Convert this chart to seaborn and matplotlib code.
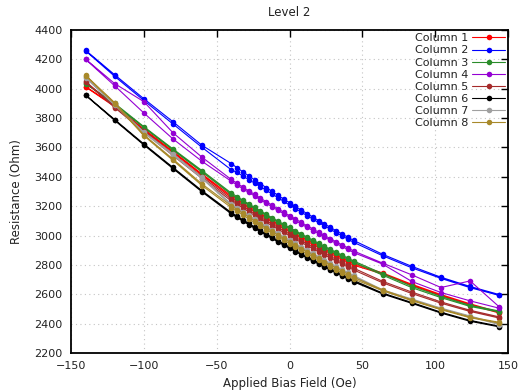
import matplotlib
matplotlib.use('Agg')
import matplotlib.pyplot as plt
import seaborn as sns
import pandas as pd
from matplotlib.lines import Line2D

# Applied bias field (Oe) for one sweep
X = [-140, -120, -100, -80, -60, -40, -36, -32, -28, -24, -20, -16, -12, -8, -4, 0,
     4, 8, 12, 16, 20, 24, 28, 32, 36, 40, 44, 64, 84, 104, 124, 144]

names = ['Column 1', 'Column 2', 'Column 3', 'Column 4',
         'Column 5', 'Column 6', 'Column 7', 'Column 8']
colors = ['#ff0000', '#0000ff', '#2a8c2a', '#9400d3',
          '#a52a2a', '#000000', '#a0a0a0', '#a8892a']

# forward sweep (A) and return sweep (B), listed in the order of X
col1_a = [4015, 3885, 3726, 3574, 3419, 3271, 3246, 3221, 3197, 3173, 3149, 3126, 3103, 3080, 3058, 3036,
          3014, 2992, 2971, 2950, 2929, 2908, 2888, 2868, 2848, 2828, 2808, 2745, 2668, 2598, 2535, 2478]
col1_b = [4012, 3878, 3718, 3566, 3410, 3260, 3235, 3211, 3187, 3163, 3139, 3116, 3093, 3070, 3048, 3026,
          3004, 2982, 2961, 2940, 2919, 2898, 2878, 2858, 2838, 2818, 2798, 2738, 2660, 2590, 2528, 2472]
col2_a = [4262, 4095, 3932, 3775, 3614, 3490, 3462, 3434, 3407, 3380, 3353, 3327, 3301, 3275, 3249, 3224,
          3199, 3174, 3150, 3126, 3102, 3079, 3056, 3033, 3011, 2989, 2967, 2872, 2790, 2716, 2653, 2598]
col2_b = [4258, 4084, 3920, 3760, 3600, 3448, 3430, 3405, 3381, 3357, 3333, 3308, 3283, 3258, 3233, 3208,
          3184, 3160, 3136, 3112, 3089, 3066, 3043, 3020, 2998, 2976, 2954, 2862, 2780, 2708, 2645, 2592]
col3_a = [4037, 3900, 3742, 3590, 3442, 3290, 3265, 3240, 3216, 3192, 3168, 3145, 3122, 3099, 3077, 3055,
          3033, 3011, 2990, 2969, 2948, 2927, 2907, 2887, 2867, 2847, 2827, 2740, 2655, 2586, 2525, 2486]
col3_b = [4035, 3890, 3735, 3582, 3432, 3280, 3255, 3231, 3207, 3183, 3159, 3136, 3113, 3090, 3068, 3046,
          3024, 3002, 2981, 2960, 2939, 2918, 2898, 2878, 2858, 2838, 2818, 2730, 2645, 2577, 2517, 2479]
col4_a = [4202, 4035, 3912, 3700, 3533, 3382, 3356, 3330, 3305, 3280, 3255, 3231, 3207, 3183, 3159, 3136,
          3113, 3090, 3067, 3045, 3023, 3001, 2979, 2958, 2937, 2916, 2895, 2812, 2732, 2646, 2691, 2514]
col4_b = [4200, 4020, 3835, 3658, 3505, 3370, 3344, 3319, 3294, 3269, 3244, 3220, 3196, 3172, 3148, 3125,
          3102, 3079, 3056, 3034, 3012, 2990, 2968, 2947, 2926, 2905, 2884, 2805, 2687, 2612, 2555, 2505]
col5_a = [4050, 3880, 3715, 3556, 3400, 3249, 3224, 3199, 3174, 3150, 3126, 3102, 3079, 3056, 3033, 3010,
          2988, 2966, 2944, 2922, 2901, 2880, 2859, 2838, 2818, 2798, 2778, 2688, 2615, 2548, 2491, 2446]
col5_b = [4045, 3872, 3705, 3545, 3388, 3236, 3212, 3187, 3162, 3138, 3114, 3090, 3067, 3044, 3021, 2998,
          2976, 2954, 2932, 2910, 2889, 2868, 2847, 2826, 2806, 2786, 2766, 2678, 2605, 2539, 2483, 2438]
col6_a = [3958, 3790, 3624, 3464, 3305, 3157, 3132, 3107, 3083, 3059, 3035, 3012, 2989, 2966, 2944, 2922,
          2900, 2878, 2857, 2836, 2815, 2794, 2774, 2754, 2734, 2714, 2694, 2608, 2544, 2478, 2422, 2383]
col6_b = [3955, 3784, 3617, 3456, 3297, 3148, 3123, 3098, 3074, 3050, 3026, 3003, 2980, 2957, 2935, 2913,
          2891, 2869, 2848, 2827, 2806, 2785, 2765, 2745, 2725, 2705, 2685, 2602, 2538, 2472, 2416, 2378]
col7_a = [4078, 3895, 3705, 3556, 3396, 3215, 3189, 3163, 3138, 3113, 3088, 3064, 3040, 3016, 2992, 2969,
          2946, 2923, 2900, 2878, 2856, 2834, 2812, 2791, 2770, 2749, 2728, 2630, 2568, 2506, 2452, 2398]
col7_b = [4075, 3888, 3698, 3548, 3388, 3206, 3180, 3154, 3129, 3104, 3079, 3055, 3031, 3007, 2983, 2960,
          2937, 2914, 2891, 2869, 2847, 2825, 2803, 2782, 2761, 2740, 2719, 2622, 2560, 2500, 2447, 2393]
col8_a = [4092, 3905, 3687, 3521, 3351, 3203, 3177, 3151, 3126, 3101, 3076, 3052, 3028, 3004, 2980, 2957,
          2934, 2911, 2888, 2866, 2844, 2822, 2800, 2779, 2758, 2737, 2716, 2630, 2562, 2500, 2445, 2409]
col8_b = [4088, 3898, 3680, 3512, 3340, 3190, 3165, 3139, 3114, 3089, 3064, 3040, 3016, 2992, 2968, 2945,
          2922, 2899, 2876, 2854, 2832, 2810, 2788, 2767, 2746, 2725, 2704, 2624, 2556, 2495, 2440, 2404]

fwd = [col1_a, col2_a, col3_a, col4_a, col5_a, col6_a, col7_a, col8_a]
back = [col1_b, col2_b, col3_b, col4_b, col5_b, col6_b, col7_b, col8_b]

xticks = [-150, -100, -50, 0, 50, 100, 150]
yticks = [2200, 2400, 2600, 2800, 3000, 3200, 3400, 3600, 3800, 4000, 4200, 4400]

sns.set_style('white')
plt.rcParams['font.family'] = ['DejaVu Sans']
txt = '#222222'

fig = plt.figure(figsize=(5.32, 3.92), dpi=100)
ax = fig.add_axes([71 / 532, 1 - 353 / 392, 437 / 532, 323 / 392])

for name, color, fa, fb in zip(names, colors, fwd, back):
    df = pd.DataFrame({'x': X + X[::-1], 'y': fa + fb[::-1]})
    sns.lineplot(data=df, x='x', y='y', sort=False, estimator=None, color=color,
                 linewidth=0.8, marker='o', markersize=4, markeredgewidth=0,
                 ax=ax, legend=False)

ax.set_xlim(-150, 150)
ax.set_ylim(2200, 4400)
ax.set_xticks(xticks)
ax.set_yticks(yticks)
ax.grid(True, linestyle=(0, (1, 3)), color='#c4c4c4', linewidth=0.8)
ax.set_axisbelow(True)
ax.tick_params(direction='in', top=True, right=True, length=5, width=1,
               labelsize=8, colors='black', labelcolor=txt, pad=6)
for s in ax.spines.values():
    s.set_color('black')
    s.set_linewidth(1.3)

ax.set_xlabel('Applied Bias Field (Oe)', fontsize=8.5, color=txt, labelpad=4)
ax.set_ylabel('Resistance (Ohm)', fontsize=8.5, color=txt, labelpad=8)
ax.set_title('Level 2', fontsize=8.5, color=txt, pad=10)

handles = [Line2D([0], [0], color=c, linewidth=0.8, marker='o', markersize=4,
                  markeredgewidth=0) for c in colors]
ax.legend(handles, names, loc='upper right', markerfirst=False, frameon=False,
          fontsize=8, handlelength=2.9, labelspacing=0.19, handletextpad=0.4,
          borderaxespad=0.1, borderpad=0.2, labelcolor=txt)

fig.savefig('out.png', dpi=100)
